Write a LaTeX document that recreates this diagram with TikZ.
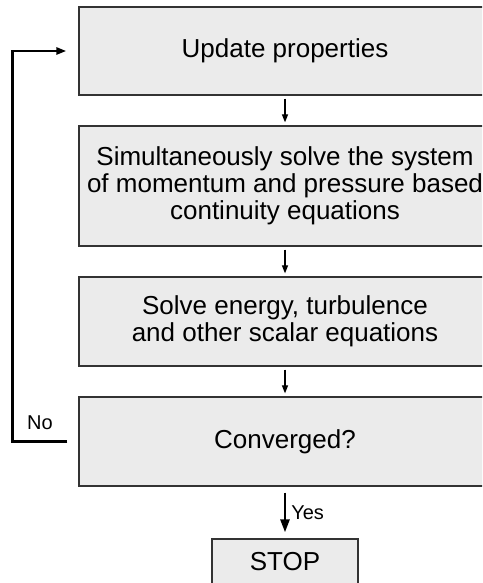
\documentclass[tikz,border=0pt]{standalone}
\usepackage{fontspec}
\setmainfont{Liberation Sans}
\usetikzlibrary{arrows.meta}

\definecolor{boxfill}{HTML}{EBEBEB}
\definecolor{boxline}{HTML}{333333}

\tikzset{
    stepbox/.style={draw=boxline, fill=boxfill, line width=1.3pt, align=center,
        minimum width=412pt, inner sep=0pt, font=\fontsize{26}{27}\selectfont},
    flowarrow/.style={-{Triangle[length=8pt,width=6pt]}, line width=1.2pt,
        shorten <=3pt, shorten >=3pt},
    bigarrow/.style={-{Triangle[length=13pt,width=9pt]}, line width=2.6pt},
    tag/.style={font=\fontsize{20}{22}\selectfont, inner sep=0pt}
}

\begin{document}
\begin{tikzpicture}[x=1pt,y=-1pt]
    \useasboundingbox (0,0) rectangle (482,583);
    \clip (0,0) rectangle (482,583);

    % Boxes of the loop
    \node[stepbox, minimum height=88pt]  (upd)  at (285,51)    {Update properties};
    \node[stepbox, minimum height=120pt] (sim)  at (285,186)   {Simultaneously solve the system\\of momentum and pressure based\\continuity equations};
    \node[stepbox, minimum height=89pt]  (scal) at (285,321.5) {Solve energy, turbulence\\and other scalar equations};
    \node[stepbox, minimum height=89pt]  (conv) at (285,441.5) {Converged?};
    \node[stepbox, minimum width=146pt, minimum height=46pt] (stop) at (285,562) {STOP};

    % Steps down
    \foreach \a/\b in {upd/sim, sim/scal, scal/conv} {
        \draw[flowarrow] (\a) -- (\b);
    }

    % Exit
    \draw[bigarrow, shorten <=6pt, shorten >=6pt] (conv) -- (stop)
        node[tag, pos=0.5, right=5pt] {Yes};

    % Back to the start
    \draw[line width=2.6pt, -{Triangle[length=10pt,width=7pt]}]
        ([xshift=-11pt]conv.west) -- ++(-55,0) coordinate (back)
        |- ([xshift=-12pt]upd.west);
    \node[tag] (no) at (40,423) {No};
\end{tikzpicture}
\end{document}
